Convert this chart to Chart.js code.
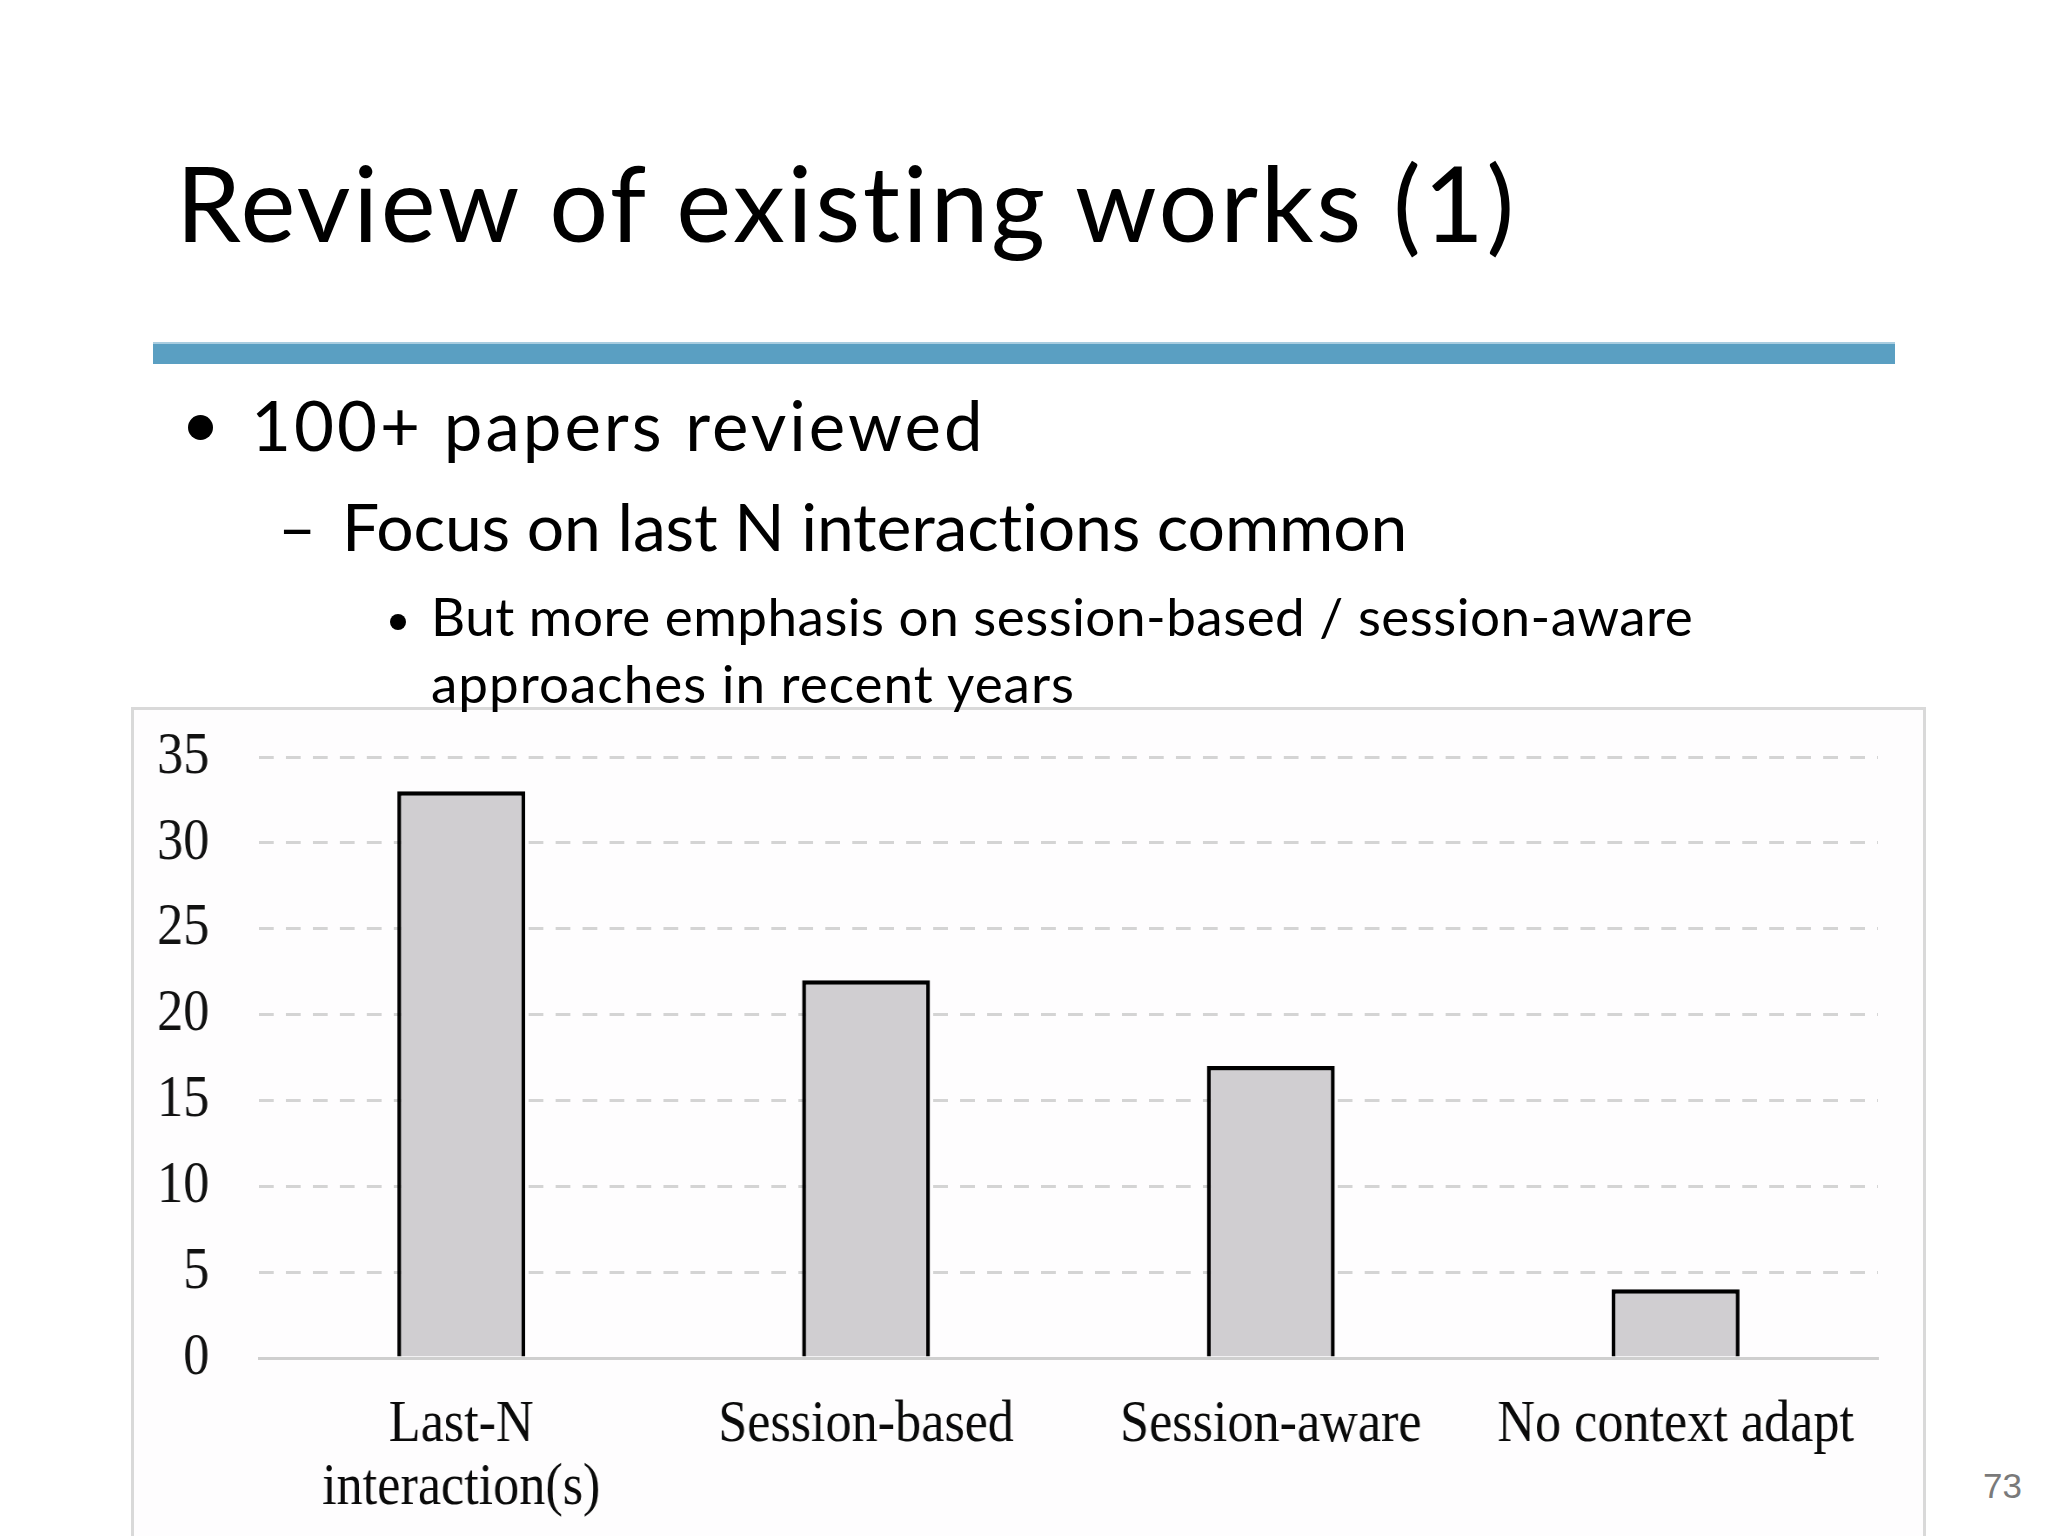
<!DOCTYPE html>
<html>
<head>
<meta charset="utf-8">
<script src="https://cdn.jsdelivr.net/npm/chart.js@4.4.1/dist/chart.umd.min.js"></script>
<style>
  html, body { margin: 0; padding: 0; background: #fff; }
  body { width: 2048px; height: 1536px; position: relative; overflow: hidden;
         font-family: Lato, "Open Sans", sans-serif; color: #000;
         font-variant-ligatures: none; font-feature-settings: "liga" 0; }
  .t { position: absolute; white-space: nowrap; line-height: 1; z-index: 3; }
  .dot { position: absolute; border-radius: 50%; background: #000; z-index: 3; }
  #rule { position: absolute; left: 153px; top: 342px; width: 1742px; height: 22px;
          background: #5a9fc2; border-top: 2px solid #a9cde0; box-sizing: border-box; }
  #box { position: absolute; left: 131px; top: 707px; width: 1795px; height: 900px;
         border: 3px solid #d9d9d9; box-sizing: border-box; background: #fefdfe; z-index: 1; }
  #wrap { position: absolute; left: 131px; top: 707px; width: 2060px; height: 829px;
          transform: scaleX(0.87); transform-origin: 0 0; z-index: 2; }
  #wrap canvas { display: block; }
  #page { position: absolute; left: 1983px; top: 1468px; font-family: "Liberation Sans", Arial, sans-serif;
          font-size: 35px; color: #7a7a7a; z-index: 3; }
</style>
</head>
<body>
<div class="t" id="title" style="left:176px; top:150px; font-size:104px; letter-spacing:2.65px;">Review of existing works (1)</div>
<div id="rule"></div>

<div class="dot" style="left:188px; top:415px; width:25px; height:25px;"></div>
<div class="t" style="left:251px; top:390px; font-size:69px; letter-spacing:3px;">100+ papers reviewed</div>

<div class="t" style="left:278px; top:493px; font-size:66px;">–</div>
<div class="t" style="left:342px; top:493px; font-size:66px; letter-spacing:-0.15px;">Focus on last N interactions common</div>

<div class="dot" style="left:390px; top:614px; width:16px; height:16px;"></div>
<div class="t" style="left:431px; top:589px; font-size:53px; letter-spacing:0.5px;">But more emphasis on session-based / session-aware</div>
<div class="t" style="left:431px; top:656px; font-size:53px; letter-spacing:1px;">approaches in recent years</div>

<div id="box"></div>
<div id="wrap"><canvas id="chart" width="2060" height="829"></canvas></div>
<div class="t" id="page">73</div>

<script>
// papers per context-adaptation approach
const categories = [["Last-N", "interaction(s)"], "Session-based", "Session-aware", "No context adapt"];
const paperCounts = [33, 22, 17, 4];
const yMin = 0;
const yMax = 35;
const yStep = 5;

const serif = { family: '"Liberation Serif", "Times New Roman", serif', size: 60, lineHeight: 1.05 };

new Chart(document.getElementById("chart").getContext("2d"), {
  type: "bar",
  data: {
    labels: categories,
    datasets: [
      {
        data: paperCounts,
        backgroundColor: "#d0ced1",
        borderColor: "#000000",
        borderWidth: 4.5,
        borderSkipped: "bottom",
        barPercentage: 0.316,
        categoryPercentage: 1,
      },
    ],
  },
  options: {
    responsive: false,
    animation: false,
    devicePixelRatio: 1,
    layout: { padding: { top: 50, right: 52, left: 0, bottom: 0 } },
    plugins: { legend: { display: false }, tooltip: { enabled: false } },
    scales: {
      x: {
        grid: { display: false, drawTicks: false },
        border: { display: true, color: "#cfcfcf", width: 3 },
        ticks: { color: "#0a0a0a", font: serif, padding: 36, maxRotation: 0, autoSkip: false },
        afterFit: (s) => { s.height = 178; },
      },
      y: {
        min: yMin,
        max: yMax,
        grid: { color: "#d4d4d4", lineWidth: 3, drawTicks: false },
        border: { display: false, dash: [17, 14] },
        ticks: { stepSize: yStep, color: "#111", font: serif, padding: 57 },
        afterFit: (s) => { s.width = 147; s.paddingTop = 0; s.paddingBottom = 0; },
      },
    },
  },
});
</script>
</body>
</html>
